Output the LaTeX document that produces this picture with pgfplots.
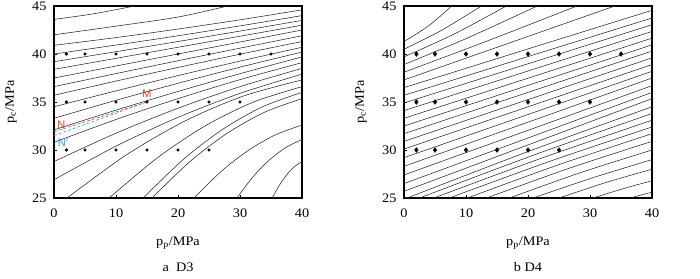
\documentclass[border=0pt]{standalone}
\usepackage{fontspec}
\setmainfont{Liberation Serif}[FakeStretch=1.1]
\newfontfamily\lsans{Liberation Sans}
\usepackage{pgfplots}
\pgfplotsset{compat=1.18}
\definecolor{mred}{RGB}{232,62,52}
\definecolor{mblue}{RGB}{40,160,222}
\pgfplotsset{
  cont/.style={black!85, line width=0.55pt, smooth, no markers},
  myax/.style={width=248bp,height=192bp,scale only axis,
    xmin=0,xmax=40,ymin=25,ymax=45,
    xtick={0,10,20,30,40},ytick={25,30,35,40,45},
    tick align=inside, xtick pos=bottom, ytick pos=left,
    major tick length=3bp,
    axis line style={line width=1.1pt},
    tick style={line width=0.6pt,black},
    /pgf/number format/assume math mode=true,
    ticklabel style={font=\fontsize{13bp}{15bp}\selectfont},
    xticklabel style={yshift=-7bp},
    yticklabel style={xshift=-4bp},
    anchor=south west, clip=true}
}
\begin{document}
\begin{tikzpicture}[x=1bp,y=1bp]
\path[use as bounding box] (0,0) rectangle (700,278);
% ---------------- D3 ----------------
\begin{axis}[myax, at={(54bp,80bp)}]
\addplot[cont] coordinates {(0,43.6)(6.5,44.2)(13,45)};
\addplot[cont] coordinates {(0,42.0)(10,42.9)(20,43.85)(28,45)};
\addplot[cont] coordinates {(0,40.9)(10,41.71)(20,42.6)(30,43.56)(40,44.6)};
\addplot[cont] coordinates {(0,40.0)(10,40.93)(20,41.9)(30,42.93)(40,44.0)};
\addplot[cont] coordinates {(0,39.2)(10,40.24)(20,41.3)(30,42.39)(40,43.5)};
\addplot[cont] coordinates {(0,38.4)(10,39.55)(20,40.7)(30,41.85)(40,43.0)};
\addplot[cont] coordinates {(0,37.5)(10,38.75)(20,40.0)(30,41.25)(40,42.5)};
\addplot[cont] coordinates {(0,36.6)(10,37.96)(20,39.3)(30,40.61)(40,41.9)};
\addplot[cont] coordinates {(0,35.7)(10,37.18)(20,38.6)(30,39.98)(40,41.3)};
\addplot[cont] coordinates {(0,34.5)(10,36.16)(20,37.75)(30,39.26)(40,40.7)};
\addplot[cont] coordinates {(0,33.3)(10,35.18)(20,36.95)(30,38.63)(40,40.2)};
\addplot[cont] coordinates {(0,32.1)(10,34.15)(20,36.1)(30,37.95)(40,39.7)};
\addplot[cont] coordinates {(0,30.8)(10,33.18)(20,35.35)(30,37.33)(40,39.1)};
\addplot[cont] coordinates {(0,28.8)(10,31.75)(20,34.35)(30,36.6)(40,38.5)};
\addplot[cont] coordinates {(0,26.9)(10,30.4)(20,33.4)(30,35.9)(40,37.9)};
\addplot[cont] coordinates {(2.1,25)(11.6,29.46)(21.05,33.0)(30.5,35.61)(40,37.3)};
\addplot[cont] coordinates {(8.9,25)(16.7,29.2)(24.45,32.54)(32.2,35.0)(40,36.6)};
\addplot[cont] coordinates {(14.4,25)(20.8,28.99)(27.2,32.15)(33.6,34.49)(40,36.0)};
\addplot[cont] coordinates {(15.8,25)(21.85,28.75)(27.9,31.73)(33.95,33.93)(40,35.35)};
\addplot[cont] coordinates {(22.6,25)(26.95,27.76)(31.3,29.94)(35.65,31.56)(40,32.6)};
\addplot[cont] coordinates {(29.5,25)(32.1,27.21)(34.75,28.97)(37.4,30.26)(40,31.1)};
\addplot[cont] coordinates {(35.2,25)(36.4,26.38)(37.6,27.47)(38.8,28.28)(40,28.8)};
% N-M
\addplot[mblue, densely dashed, line width=0.6pt] coordinates {(0,31.5)(15,35)};
\addplot[mred, densely dashed, line width=0.6pt] coordinates {(0,31.9)(15,35)};
% points
\addplot[only marks, mark=*, mark size=1.4bp, black] coordinates {
(2,40)(5,40)(10,40)(15,40)(20,40)(25,40)(30,40)(35,40)
(2,35)(5,35)(10,35)(15,35)(20,35)(25,35)(30,35)
(2,30)(5,30)(10,30)(15,30)(20,30)(25,30)};
\node[text=mred, font=\lsans\fontsize{11bp}{13bp}\selectfont] at (axis cs:15.0,35.9) {M};
\node[text=mred, font=\lsans\fontsize{11bp}{13bp}\selectfont] at (axis cs:1.2,32.6) {N};
\node[text=mblue, font=\lsans\fontsize{11bp}{13bp}\selectfont] at (axis cs:1.5,30.8) {N$'$};
\end{axis}
% ---------------- D4 ----------------
\begin{axis}[myax, at={(404bp,80bp)}]
\addplot[cont] coordinates {(0,41.3)(4,42.95)(7.7,45)};
\addplot[cont] coordinates {(0,40.5)(6,42.45)(12.5,45)};
\addplot[cont] coordinates {(0,39.7)(8,42.05)(16.5,45)};
\addplot[cont] coordinates {(0,38.9)(10,41.6)(21.5,45)};
\addplot[cont] coordinates {(0,38.1)(14,41.5)(27.9,45)};
\addplot[cont] coordinates {(0,37.3)(17,41.15)(34,45)};
\addplot[cont] coordinates {(0,36.5)(10,38.51)(20,40.53)(30,42.54)(40,44.55)};
\addplot[cont] coordinates {(0,35.7)(10,37.71)(20,39.73)(30,41.74)(40,43.75)};
\addplot[cont] coordinates {(0,34.9)(10,36.94)(20,38.98)(30,41.01)(40,43.05)};
\addplot[cont] coordinates {(0,34.1)(10,36.16)(20,38.23)(30,40.29)(40,42.35)};
\addplot[cont] coordinates {(0,33.3)(10,35.39)(20,37.48)(30,39.56)(40,41.65)};
\addplot[cont] coordinates {(0,32.5)(10,34.61)(20,36.73)(30,38.84)(40,40.95)};
\addplot[cont] coordinates {(0,31.7)(10,33.85)(20,36.0)(30,38.15)(40,40.3)};
\addplot[cont] coordinates {(0,30.9)(10,33.08)(20,35.25)(30,37.43)(40,39.6)};
\addplot[cont] coordinates {(0,30.1)(10,32.3)(20,34.5)(30,36.7)(40,38.9)};
\addplot[cont] coordinates {(0,29.2)(10,31.45)(20,33.7)(30,35.95)(40,38.2)};
\addplot[cont] coordinates {(0,28.3)(10,30.6)(20,32.9)(30,35.2)(40,37.5)};
\addplot[cont] coordinates {(0,27.4)(10,29.73)(20,32.05)(30,34.38)(40,36.7)};
\addplot[cont] coordinates {(0,26.5)(10,28.88)(20,31.25)(30,33.63)(40,36.0)};
\addplot[cont] coordinates {(0,25.7)(10,28.11)(20,30.53)(30,32.94)(40,35.35)};
\addplot[cont] coordinates {(0.5,25)(20.25,29.9)(40,34.5)};
\addplot[cont] coordinates {(2.5,25)(21.25,29.55)(40,33.8)};
\addplot[cont] coordinates {(4.8,25)(22.4,29.2)(40,33.1)};
\addplot[cont] coordinates {(7.3,25)(23.65,28.85)(40,32.4)};
\addplot[cont] coordinates {(10.2,25)(25.1,28.5)(40,31.7)};
\addplot[cont] coordinates {(13.3,25)(26.65,28.1)(40,30.9)};
\addplot[cont] coordinates {(17,25)(28.5,27.65)(40,30.0)};
\addplot[cont] coordinates {(20.8,25)(30.4,27.1)(40,29.0)};
\addplot[cont] coordinates {(25,25)(32.5,26.6)(40,28.0)};
\addplot[cont] coordinates {(30.5,25)(35.25,25.95)(40,26.8)};
\addplot[cont] coordinates {(36.5,25)(38.25,25.32)(40,25.6)};
\addplot[only marks, mark=diamond*, mark size=2.4bp, black] coordinates {
(2,40)(5,40)(10,40)(15,40)(20,40)(25,40)(30,40)(35,40)
(2,35)(5,35)(10,35)(15,35)(20,35)(25,35)(30,35)
(2,30)(5,30)(10,30)(15,30)(20,30)(25,30)};
\end{axis}
% labels
\begin{scope}[font=\fontsize{13bp}{15bp}\selectfont]
\node at (178,35) {p\textsubscript{p}/MPa};
\node at (528,35) {p\textsubscript{p}/MPa};
\node at (178,11) {a\ \ D3};
\node at (528,11) {b D4};
\node[rotate=90] at (11,176) {p\textsubscript{c}/MPa};
\node[rotate=90] at (361,176) {p\textsubscript{c}/MPa};
\end{scope}
\end{tikzpicture}
\end{document}
